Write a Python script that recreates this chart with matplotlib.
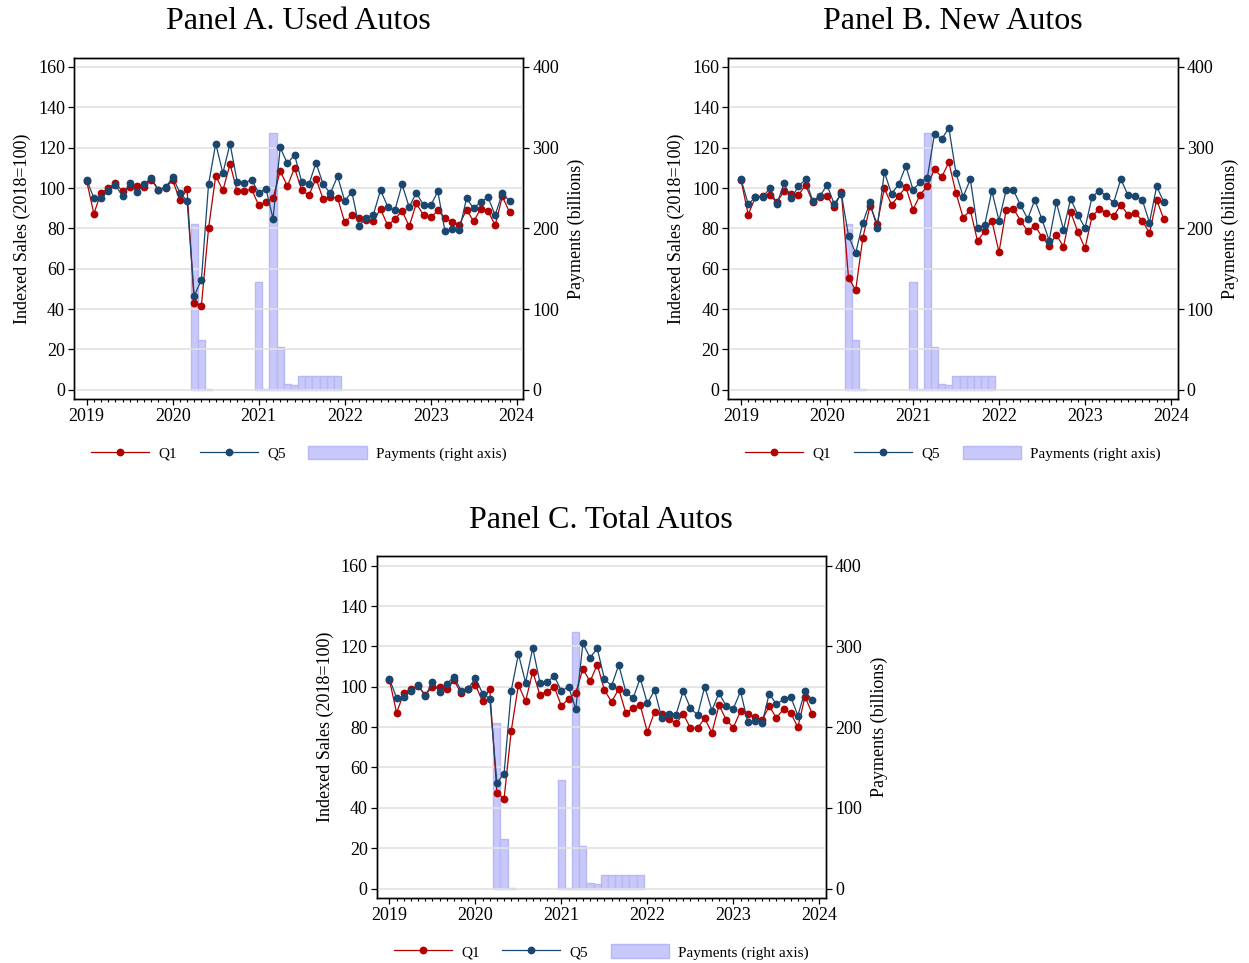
import numpy as np
import matplotlib
matplotlib.use("Agg")
import matplotlib.pyplot as plt
from matplotlib.lines import Line2D
from matplotlib.patches import Patch

plt.rcParams['font.family'] = ['Liberation Serif', 'DejaVu Serif']

# monthly, Jan 2019 .. Dec 2023
months = 2019 + np.arange(60) / 12.0

q1_used = [103.3, 87.3, 97.7, 99.8, 102.5, 98.3, 100.5, 101.2, 100.5, 104.1, 99.2, 100.2,
           103.8, 93.9, 99.3, 43.1, 41.7, 80.0, 106.1, 98.8, 111.9, 98.3, 98.3, 99.5,
           91.4, 93.1, 95.0, 108.4, 101.0, 109.9, 99.0, 96.4, 104.6, 94.4, 95.4, 95.2,
           83.0, 86.5, 85.0, 84.2, 83.8, 89.6, 81.5, 84.5, 88.8, 81.0, 92.4, 86.5,
           85.5, 88.9, 85.0, 83.2, 81.7, 89.3, 83.5, 89.8, 88.6, 81.5, 95.9, 88.0]
q5_used = [104.0, 95.0, 94.9, 98.7, 101.5, 96.0, 102.6, 98.0, 101.8, 105.0, 99.0, 100.3,
           105.3, 97.7, 93.7, 46.5, 54.5, 101.8, 122.0, 107.4, 122.0, 103.1, 102.5, 104.1,
           97.7, 99.7, 84.8, 120.1, 112.2, 116.5, 103.0, 101.8, 112.5, 101.8, 97.4, 105.8,
           93.7, 98.0, 81.2, 85.3, 86.8, 99.0, 90.8, 88.9, 101.8, 90.6, 97.7, 91.4,
           91.4, 98.3, 78.5, 79.5, 79.2, 94.9, 89.9, 93.2, 95.4, 86.6, 97.5, 93.6]

q1_new = [104.0, 86.8, 95.4, 96.2, 96.5, 92.9, 98.5, 97.0, 96.4, 101.5, 93.1, 95.6,
          96.0, 90.4, 98.0, 55.5, 49.4, 75.3, 91.3, 82.2, 99.8, 91.8, 96.0, 100.5,
          89.3, 96.7, 101.0, 109.4, 105.4, 112.7, 97.5, 85.3, 89.0, 73.8, 78.6, 83.9,
          68.2, 89.3, 89.8, 83.9, 78.7, 81.4, 75.8, 71.3, 76.9, 70.8, 88.1, 78.3,
          70.2, 86.2, 89.5, 87.8, 86.2, 91.6, 86.8, 87.6, 83.9, 77.6, 94.2, 84.5]
q5_new = [104.3, 92.1, 95.4, 95.4, 99.8, 92.1, 102.3, 94.9, 100.8, 104.3, 93.7, 95.9,
          101.5, 92.1, 97.2, 76.3, 67.7, 82.9, 92.9, 80.1, 107.9, 97.2, 101.8, 110.9,
          99.2, 102.8, 105.1, 126.9, 124.2, 129.8, 107.4, 95.7, 104.3, 80.2, 81.7, 98.5,
          83.9, 99.0, 99.0, 91.6, 84.7, 94.1, 84.5, 74.0, 92.9, 79.4, 94.6, 86.8,
          80.2, 95.7, 98.7, 95.9, 92.8, 104.4, 96.5, 95.9, 94.1, 82.9, 100.8, 93.1]

q1_total = [103.5, 87.1, 96.8, 98.8, 100.2, 96.1, 99.8, 99.8, 98.8, 103.2, 96.8, 99.1,
            100.9, 92.7, 98.8, 47.5, 44.5, 78.2, 100.9, 92.8, 107.5, 96.0, 97.6, 99.9,
            90.5, 94.1, 97.1, 108.8, 102.6, 111.0, 98.4, 92.5, 98.9, 86.9, 89.4, 90.8,
            77.5, 87.6, 86.7, 83.9, 81.8, 86.6, 79.5, 79.6, 84.3, 77.2, 90.8, 83.6,
            79.8, 88.0, 86.7, 84.9, 83.4, 90.4, 84.6, 88.9, 86.9, 80.0, 95.1, 86.6]
q5_total = [103.9, 94.5, 95.0, 97.9, 100.9, 95.3, 102.4, 97.4, 101.4, 104.9, 98.1, 99.1,
            104.4, 96.6, 94.1, 52.4, 57.0, 98.1, 116.2, 102.1, 119.2, 102.1, 102.2, 105.4,
            97.8, 100.1, 88.9, 121.5, 114.4, 119.0, 103.9, 100.4, 110.8, 97.4, 94.3, 104.2,
            91.7, 98.3, 84.6, 86.4, 86.2, 97.9, 89.5, 85.9, 100.1, 88.2, 96.9, 90.4,
            89.2, 97.8, 82.4, 82.8, 81.8, 96.6, 91.3, 93.7, 95.0, 85.7, 97.9, 93.3]

# payments in billions
payments = [0, 0, 0, 0, 0, 0, 0, 0, 0, 0, 0, 0,
            0, 0, 0, 205, 61.5, 1.2, 0, 0, 0, 0, 0, 0,
            134, 1.0, 318, 53, 7.4, 5.4, 17.3, 17.3, 17.3, 17.3, 17.3, 17.3,
            0, 0, 0, 0, 0, 0, 0, 0, 0, 0, 0, 0,
            0, 0, 0, 0, 0, 0, 0, 0, 0, 0, 0, 0]

titles = ['Panel A. Used Autos', 'Panel B. New Autos', 'Panel C. Total Autos']
panel_q1 = [q1_used, q1_new, q1_total]
panel_q5 = [q5_used, q5_new, q5_total]

red = '#b30000'
navy = '#1a476f'
bar_fill = '#c8c8fa'
bar_edge = '#b8b8f4'

W, H = 1249, 963
fig = plt.figure(figsize=(W / 100, H / 100), dpi=100)

# left, right, top, bottom spine in pixels
boxes = [(74, 523.3, 57.7, 399.3), (728.3, 1177.6, 57.7, 399.3), (376.7, 826, 556.4, 898)]

for i in range(3):
    l, r, t, b = boxes[i]
    ax = fig.add_axes([l / W, 1 - b / H, (r - l) / W, (b - t) / H])
    ax2 = ax.twinx()

    pay = np.array(payments, dtype=float)
    nz = pay > 0
    ax2.bar(months[nz], pay[nz], width=1 / 12, color=bar_fill, edgecolor=bar_edge,
            linewidth=1, zorder=1)

    ax.set_zorder(ax2.get_zorder() + 1)
    ax.patch.set_visible(False)
    ax.plot(months, panel_q1[i], color=red, lw=0.9, marker='o', ms=4.6, zorder=3)
    ax.plot(months, panel_q5[i], color=navy, lw=0.9, marker='o', ms=4.6, zorder=4)

    ax.set_ylim(-4.7, 164.6)
    ax2.set_ylim(-4.7 * 2.5, 164.6 * 2.5)
    ax.set_yticks(np.arange(0, 161, 20))
    ax2.set_yticks(np.arange(0, 401, 100))
    ax.set_xlim(2018.852, 2024.077)
    ax.set_xticks(np.arange(2019, 2025))
    ax.set_xticks(2019 + np.arange(61) / 12.0, minor=True)
    ax.grid(axis='y', color='#e2e2e2', lw=1.2)
    ax.set_axisbelow(True)

    for a in (ax, ax2):
        a.tick_params(which='major', direction='out', length=4.5, width=0.9,
                      labelsize=13, pad=2)
        a.tick_params(which='minor', direction='out', length=2.5, width=0.8)
        for s in a.spines.values():
            s.set_linewidth(1.0)

    ax.set_ylabel('Indexed Sales (2018=100)', fontsize=13, labelpad=5)
    ax2.set_ylabel('Payments (billions)', fontsize=13, labelpad=6)

    fig.text((l + r) / 2 / W, 1 - (t - 28.7) / H, titles[i], ha='center',
             va='baseline', fontsize=23)

    handles = [Line2D([], [], color=red, lw=0.9, marker='o', ms=4.6),
               Line2D([], [], color=navy, lw=0.9, marker='o', ms=4.6),
               Patch(facecolor=bar_fill, edgecolor=bar_edge)]
    ax.legend(handles, ['Q1', 'Q5', 'Payments (right axis)'], loc='center',
              bbox_to_anchor=(0.5, -54 / (b - t)), ncol=3, frameon=False,
              fontsize=11, handlelength=3.8, handleheight=1.0,
              handletextpad=0.6, columnspacing=1.5)

fig.savefig('out.png', dpi=100)
